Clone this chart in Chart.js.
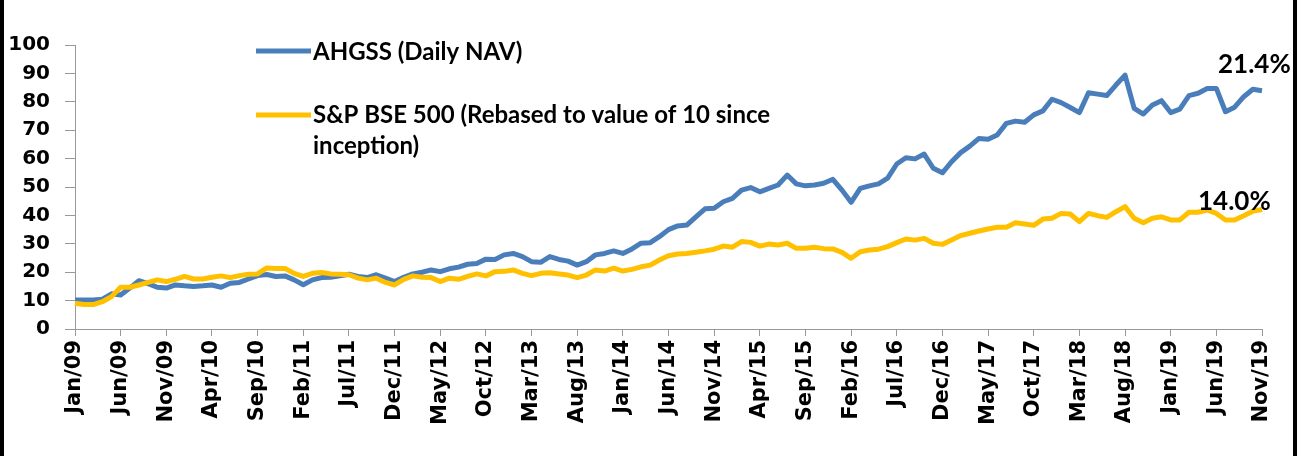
<!DOCTYPE html>
<html>
<head>
<meta charset="utf-8">
<script src="https://cdn.jsdelivr.net/npm/chart.js@4/dist/chart.umd.min.js"></script>
<style>
    body { margin: 0; background: #fff; }
    #wrap { width: 1306px; height: 456px; }
</style>
</head>
<body>
<div id="wrap"><canvas id="myChart" width="1306" height="456"></canvas></div>
<script>
// month names and years for the category axis (Jan/09 .. Nov/19)
const monthNames = ['Jan', 'Feb', 'Mar', 'Apr', 'May', 'Jun', 'Jul', 'Aug', 'Sep', 'Oct', 'Nov', 'Dec']
const years = ['09', '10', '11', '12', '13', '14', '15', '16', '17', '18', '19']

const ahgss = [
    10.2, 10.2, 10.2, 10.5, 12.4, 12.0, 14.4, 17.0, 16.0, 14.7, 14.4, 15.5,
    15.2, 15.0, 15.2, 15.5, 14.7, 16.1, 16.4, 17.6, 18.8, 19.2, 18.5, 18.7,
    17.3, 15.6, 17.3, 18.1, 18.2, 18.7, 19.3, 18.5, 18.1, 19.1, 17.9, 16.7,
    18.2, 19.4, 20.0, 20.8, 20.2, 21.2, 21.8, 22.8, 23.1, 24.6, 24.5, 26.1,
    26.6, 25.5, 23.7, 23.5, 25.5, 24.5, 23.9, 22.5, 23.7, 26.1, 26.6, 27.5,
    26.6, 28.2, 30.2, 30.4, 32.5, 35.0, 36.3, 36.6, 39.5, 42.3, 42.5, 44.8,
    46.0, 48.9, 49.8, 48.3, 49.5, 50.7, 54.2, 51.1, 50.4, 50.7, 51.3, 52.7,
    48.9, 44.6, 49.5, 50.4, 51.1, 53.1, 58.1, 60.3, 59.9, 61.6, 56.6, 55.0,
    58.9, 62.1, 64.4, 67.1, 66.8, 68.3, 72.4, 73.2, 72.8, 75.4, 76.8, 80.9,
    79.7, 78.0, 76.2, 83.2, 82.7, 82.2, 85.9, 89.4, 77.7, 75.7, 78.9, 80.4,
    76.2, 77.4, 82.2, 83.0, 84.7, 84.7, 76.5, 78.1, 81.8, 84.4, 83.9
]

const bse500 = [
    9.1, 8.6, 8.6, 9.6, 11.4, 14.7, 14.7, 15.5, 16.4, 17.3, 16.7, 17.5,
    18.5, 17.6, 17.6, 18.2, 18.7, 18.1, 18.8, 19.3, 19.4, 21.5, 21.3, 21.3,
    19.6, 18.5, 19.6, 19.9, 19.4, 19.3, 19.1, 17.9, 17.3, 17.9, 16.4, 15.5,
    17.5, 18.7, 18.2, 18.1, 16.7, 17.9, 17.5, 18.5, 19.4, 18.7, 20.2, 20.3,
    20.8, 19.6, 18.8, 19.6, 19.8, 19.4, 19.0, 18.1, 19.0, 20.8, 20.4, 21.4,
    20.4, 21.0, 21.9, 22.5, 24.3, 25.8, 26.4, 26.6, 27.0, 27.5, 28.1, 29.2,
    28.8, 30.8, 30.5, 29.2, 29.9, 29.6, 30.2, 28.4, 28.4, 28.8, 28.3, 28.2,
    27.0, 24.9, 27.2, 27.8, 28.1, 29.0, 30.4, 31.7, 31.3, 31.9, 30.2, 29.8,
    31.3, 32.9, 33.7, 34.5, 35.2, 35.8, 35.8, 37.4, 37.0, 36.5, 38.7, 39.0,
    40.7, 40.5, 37.8, 40.7, 39.9, 39.3, 41.3, 43.1, 39.0, 37.4, 39.0, 39.5,
    38.4, 38.4, 41.1, 41.1, 41.9, 40.7, 38.4, 38.4, 39.9, 41.5, 42.1
]

const seriesNames = ['AHGSS (Daily NAV)', 'S&P BSE 500 (Rebased to value of 10 since', 'inception)']
const endLabels = ['21.4%', '14.0%']
const yTicks = [0, 10, 20, 30, 40, 50, 60, 70, 80, 90, 100]

const blue = '#4A7EBB'
const gold = '#FFC000'

// build the month categories
let categories = []
for (let y of years) {
    for (let m of monthNames) {
        if (categories.length < ahgss.length) categories.push(m + '/' + y)
    }
}

// legend, end labels and the side frame are drawn after the chart
const extras = {
    id: 'extras',
    beforeDraw(chart) {
        const c = chart.ctx
        c.save()
        c.fillStyle = '#fff'
        c.fillRect(0, 0, chart.width, chart.height)
        c.restore()
    },
    afterDraw(chart) {
        const c = chart.ctx
        const xs = chart.scales.x
        const ys = chart.scales.y
        c.save()
        c.lineCap = 'butt'

        // legend samples
        c.lineWidth = 5
        c.strokeStyle = blue
        c.beginPath(); c.moveTo(256, 51); c.lineTo(311, 51); c.stroke()
        c.strokeStyle = gold
        c.beginPath(); c.moveTo(256, 115); c.lineTo(311, 115); c.stroke()

        c.fillStyle = '#000'
        c.textBaseline = 'alphabetic'
        c.textAlign = 'left'
        c.font = 'bold 24px Lato'
        c.fillText(seriesNames[0], 313, 60)
        c.fillText(seriesNames[1], 313, 123)
        c.fillText(seriesNames[2], 313, 154)

        // end-point labels next to the last values
        let last = ahgss.length - 1
        c.font = 'bold 26px Lato'
        c.fillText(endLabels[0], xs.getPixelForValue(last) - 44, ys.getPixelForValue(ahgss[last]) - 18)
        c.fillText(endLabels[1], xs.getPixelForValue(last) - 64, ys.getPixelForValue(bse500[last]) + 1)

        // frame on both sides
        c.fillStyle = '#000'
        c.fillRect(0, 0, 4, chart.height)
        c.fillRect(1293, 0, 4, chart.height)
        c.restore()
    }
}

const ctx = document.getElementById('myChart').getContext('2d')
const myChart = new Chart(ctx, {
    type: 'line',
    data: {
        labels: categories,
        datasets: [{
            label: seriesNames[0],
            data: ahgss,
            borderColor: blue,
            borderWidth: 5,
            pointRadius: 0,
            tension: 0,
            borderJoinStyle: 'round',
            order: 1
        }, {
            label: seriesNames[1],
            data: bse500,
            borderColor: gold,
            borderWidth: 5,
            pointRadius: 0,
            tension: 0,
            borderJoinStyle: 'round',
            order: 0
        }]
    },
    options: {
        responsive: false,
        animation: false,
        layout: { padding: { left: 0, right: 44, top: 45, bottom: 0 } },
        plugins: {
            legend: { display: false },
            tooltip: { enabled: false }
        },
        scales: {
            x: {
                offset: false,
                afterFit: (s) => { s.height = 127 },
                grid: { drawOnChartArea: false, tickLength: 7, color: '#999' },
                border: { color: '#999', width: 1 },
                ticks: {
                    autoSkip: false,
                    maxRotation: 90,
                    minRotation: 90,
                    padding: 4,
                    color: '#000',
                    font: { family: 'DejaVu Sans', size: 21, weight: 'bold' },
                    callback: (v, i) => i % 5 == 0 ? categories[i] : null
                }
            },
            y: {
                min: 0,
                max: 100,
                afterFit: (s) => { s.width = 75 },
                afterBuildTicks: (s) => { s.ticks = yTicks.map(v => ({ value: v })) },
                grid: { drawOnChartArea: false, tickLength: 10, color: '#999' },
                border: { color: '#999', width: 1 },
                ticks: {
                    padding: 15,
                    color: '#000',
                    font: { family: 'DejaVu Sans', size: 20, weight: 'bold' }
                }
            }
        }
    },
    plugins: [extras]
})
</script>
</body>
</html>
